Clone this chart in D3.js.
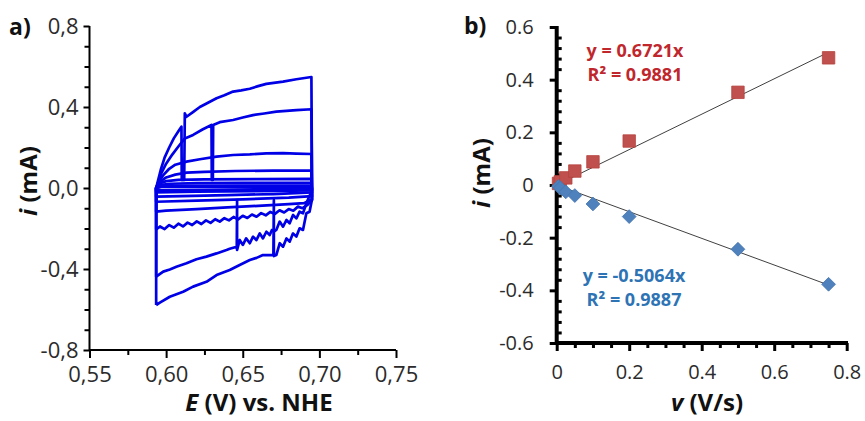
<!DOCTYPE html>
<html>
<head>
<meta charset="utf-8">
<script src="https://cdn.jsdelivr.net/npm/d3@7/dist/d3.min.js"></script>
<style>
  html, body { margin: 0; padding: 0; background: #fff; }
  svg { display: block; }
  text { font-family: "Open Sans", "DejaVu Sans", sans-serif; }
</style>
</head>
<body>
<svg id="chart" width="865" height="421"></svg>
<script>
// ---------------- Panel a) data: cyclic voltammograms (E in V, i in mA) ----------------
const cvTicksX = [0.55, 0.60, 0.65, 0.70, 0.75];
const cvMinorX = [0.575, 0.625, 0.675, 0.725];
const cvTicksY = [-0.8, -0.4, 0.0, 0.4, 0.8];
const cvMinorY = [-0.7, -0.6, -0.5, -0.3, -0.2, -0.1, 0.1, 0.2, 0.3, 0.5, 0.6, 0.7];

const cv0005 = [[0.5935,-0.012],[0.5935,0.0],[0.597,0.005],[0.62,0.006],[0.66,0.006],[0.6948,0.006],
  [0.6952,-0.006],[0.66,-0.008],[0.62,-0.010],[0.5935,-0.012]];
const cv001 = [[0.5935,-0.022],[0.5935,0.0],[0.597,0.009],[0.61,0.011],[0.65,0.012],[0.6948,0.012],
  [0.6952,-0.012],[0.66,-0.015],[0.62,-0.018],[0.5935,-0.022]];
const cv0025 = [[0.5935,-0.043],[0.5935,0.0],[0.5965,0.015],[0.603,0.021],[0.62,0.024],[0.65,0.025],[0.6948,0.026],
  [0.6952,-0.022],[0.67,-0.030],[0.64,-0.035],[0.61,-0.040],[0.5935,-0.043]];
const cv005 = [[0.5935,-0.068],[0.5935,0.0],[0.5955,0.022],[0.600,0.034],[0.608,0.040],[0.625,0.043],[0.66,0.044],[0.6948,0.045],
  [0.6952,-0.040],[0.68,-0.048],[0.65,-0.056],[0.62,-0.062],[0.5935,-0.068]];
const cv010 = [[0.5935,-0.117],[0.5935,0.0],[0.5955,0.028],[0.600,0.052],[0.606,0.066],[0.6133,0.076],[0.625,0.080],[0.645,0.084],[0.67,0.086],[0.6948,0.086],
  [0.6952,-0.055],[0.690,-0.075],[0.68,-0.080],[0.66,-0.088],[0.64,-0.096],[0.62,-0.104],[0.60,-0.112],[0.5935,-0.117]];
const cv020 = [[0.5935,-0.205],[0.5935,0.0],[0.595,0.030],[0.598,0.062],[0.602,0.095],[0.606,0.115],[0.6133,0.130],[0.622,0.142],[0.6329,0.155],[0.6437,0.163],[0.6546,0.166],[0.6654,0.171],[0.6763,0.172],[0.685,0.170],[0.6948,0.168],
  [0.6952,-0.060],[0.692,-0.085],[0.689,-0.100],[0.686,-0.092],[0.683,-0.112],[0.680,-0.104],[0.677,-0.121],[0.674,-0.110],[0.671,-0.128],[0.668,-0.118],[0.665,-0.135],[0.662,-0.124],[0.659,-0.142],[0.656,-0.131],[0.653,-0.148],[0.650,-0.137],[0.647,-0.155],[0.644,-0.143],[0.641,-0.160],[0.638,-0.149],[0.635,-0.166],[0.632,-0.154],[0.629,-0.172],[0.626,-0.160],[0.623,-0.178],[0.620,-0.165],[0.617,-0.183],[0.614,-0.171],[0.611,-0.190],[0.608,-0.176],[0.605,-0.196],[0.602,-0.183],[0.599,-0.203],[0.596,-0.190],[0.5935,-0.205]];
const cv050 = [[0.5935,-0.438],[0.5935,0.0],[0.5945,0.020],[0.597,0.075],[0.600,0.120],[0.604,0.165],[0.608,0.205],[0.6122,0.245],[0.6176,0.262],[0.624,0.290],[0.6296,0.311],[0.6298,0.040],[0.6305,0.040],[0.6307,0.311],[0.635,0.325],[0.6437,0.336],[0.650,0.348],[0.6567,0.360],[0.664,0.368],[0.6719,0.377],[0.685,0.385],[0.6948,0.389],
  [0.6952,0.0],[0.6943,-0.026],[0.6915,-0.076],[0.6893,-0.125],[0.6871,-0.117],[0.6850,-0.150],[0.6828,-0.133],[0.6806,-0.174],[0.6785,-0.158],[0.6763,-0.191],[0.6741,-0.166],[0.6719,-0.207],[0.6703,-0.215],[0.6691,-0.207],[0.6676,-0.232],[0.6654,-0.216],[0.6632,-0.249],[0.6611,-0.224],[0.6589,-0.257],[0.6567,-0.240],[0.6546,-0.273],[0.6522,-0.249],[0.6501,-0.281],[0.6480,-0.257],[0.6463,-0.306],[0.6463,-0.060],[0.6461,-0.290],[0.6415,-0.300],[0.6394,-0.306],[0.6329,-0.323],[0.6263,-0.339],[0.6198,-0.352],[0.6133,-0.372],[0.6067,-0.389],[0.6024,-0.402],[0.5981,-0.413],[0.5935,-0.438]];
const cv075 = [[0.5935,-0.578],[0.5935,0.0],[0.5945,0.030],[0.5965,0.090],[0.599,0.150],[0.602,0.200],[0.605,0.245],[0.608,0.280],[0.6100,0.303],[0.6102,0.040],[0.6118,0.040],[0.6122,0.369],[0.6133,0.352],[0.6175,0.375],[0.622,0.400],[0.627,0.420],[0.6329,0.443],[0.638,0.458],[0.6437,0.476],[0.6490,0.482],[0.6546,0.490],[0.660,0.503],[0.6654,0.514],[0.6763,0.525],[0.685,0.537],[0.6948,0.548],
  [0.6952,0.0],[0.6951,-0.059],[0.6936,-0.117],[0.6915,-0.125],[0.6893,-0.207],[0.6871,-0.199],[0.6850,-0.240],[0.6828,-0.224],[0.6806,-0.265],[0.6785,-0.249],[0.6763,-0.290],[0.6741,-0.273],[0.6719,-0.331],[0.6703,-0.336],[0.6703,-0.060],[0.6700,-0.331],[0.6632,-0.331],[0.6590,-0.345],[0.6546,-0.356],[0.6480,-0.380],[0.6415,-0.405],[0.6329,-0.430],[0.6263,-0.463],[0.6176,-0.487],[0.6111,-0.512],[0.6024,-0.537],[0.5959,-0.566],[0.5935,-0.578]];
const cvCycles = [cv0005, cv001, cv0025, cv005, cv010, cv020, cv050, cv075];

// ---------------- Panel b) data: peak currents vs scan rate ----------------
const scanRates = [0.005, 0.01, 0.025, 0.05, 0.1, 0.2, 0.5, 0.75];
const anodicPeak = [0.006, 0.012, 0.027, 0.053, 0.088, 0.167, 0.352, 0.483];
const cathodicPeak = [-0.005, -0.011, -0.026, -0.040, -0.072, -0.120, -0.244, -0.377];
const anodicSlope = 0.6721, cathodicSlope = -0.5064;
const fitRange = [0, 0.75];
const bTicksX = [0, 0.2, 0.4, 0.6, 0.8];
const bMinorX = [0.05, 0.1, 0.15, 0.25, 0.3, 0.35, 0.45, 0.5, 0.55, 0.65, 0.7, 0.75];
const bTicksY = [-0.6, -0.4, -0.2, 0, 0.2, 0.4, 0.6];
const bMinorY = [-0.56,-0.52,-0.48,-0.44,-0.36,-0.32,-0.28,-0.24,-0.16,-0.12,-0.08,-0.04,0.04,0.08,0.12,0.16,0.24,0.28,0.32,0.36,0.44,0.48,0.52,0.56];
const anodicLabel = ["y = 0.6721x", "R² = 0.9881"];
const cathodicLabel = ["y = -0.5064x", "R² = 0.9887"];

const svg = d3.select("#chart");
const locA = d3.formatLocale({decimal: ",", thousands: ".", grouping: [3], currency: ["", ""], minus: "-"});
const locB = d3.formatLocale({decimal: ".", thousands: ",", grouping: [3], currency: ["", ""], minus: "-"});

// ================= Panel a =================
const ax = d3.scaleLinear().domain([0.55, 0.75]).range([89.5, 396]);
const ay = d3.scaleLinear().domain([-0.8, 0.8]).range([350, 26]);

const gA = svg.append("g");
const cvLine = d3.line().x(d => ax(d[0])).y(d => ay(d[1]));
gA.selectAll("path.cv").data(cvCycles).join("path")
  .attr("class", "cv")
  .attr("d", cvLine)
  .attr("fill", "none")
  .attr("stroke", "#0000e6")
  .attr("stroke-width", 2.7)
  .attr("stroke-linejoin", "round");

const aXMinor = gA.append("g").attr("transform", "translate(0,350)")
  .call(d3.axisBottom(ax).tickValues(cvMinorX).tickSize(5).tickFormat(""));
const aXAxis = gA.append("g").attr("transform", "translate(0,350)")
  .call(d3.axisBottom(ax).tickValues(cvTicksX).tickSize(8).tickPadding(8).tickFormat(locA.format(".2f")));
const aYMinor = gA.append("g").attr("transform", "translate(89.5,0)")
  .call(d3.axisLeft(ay).tickValues(cvMinorY).tickSize(5).tickFormat(""));
const aYAxis = gA.append("g").attr("transform", "translate(89.5,0)")
  .call(d3.axisLeft(ay).tickValues(cvTicksY).tickSize(6).tickPadding(5).tickFormat(locA.format(".1f")));
[aXMinor, aXAxis, aYMinor, aYAxis].forEach(g => {
  g.selectAll(".tick line").attr("stroke", "#000").attr("stroke-width", 2);
  g.selectAll(".tick text").attr("fill", "#2b2b2b").style("font-size", "22px")
    .style("font-family", "'Open Sans', sans-serif");
});
aXMinor.select(".domain").remove(); aYMinor.select(".domain").remove();
aXAxis.select(".domain").attr("d", "M89.5,0H396").attr("stroke", "#000").attr("stroke-width", 2);
aYAxis.select(".domain").attr("d", "M0,26V351").attr("stroke", "#000").attr("stroke-width", 2);

gA.append("text").attr("x", 9).attr("y", 35)
  .style("font-size", "23px").style("font-weight", 700).attr("fill", "#111").text("a)");
const aYL = gA.append("text")
  .attr("transform", "translate(37,181) rotate(-90)")
  .attr("text-anchor", "middle")
  .style("font-size", "24px").style("font-weight", 700).attr("fill", "#111");
aYL.append("tspan").style("font-style", "italic").text("i");
aYL.append("tspan").text(" (mA)");
const aXL = gA.append("text").attr("x", 259).attr("y", 411)
  .attr("text-anchor", "middle")
  .style("font-size", "24px").style("font-weight", 700).attr("fill", "#111");
aXL.append("tspan").style("font-style", "italic").text("E");
aXL.append("tspan").text(" (V) vs. NHE");

// ================= Panel b =================
const bx = d3.scaleLinear().domain([0, 0.8]).range([556.7, 846.7]);
const by = d3.scaleLinear().domain([-0.6, 0.6]).range([343, 27]);
const gB = svg.append("g");
const fmtB = d => locB.format("")(+d.toFixed(1));

const bXMinor = gB.append("g").attr("transform", "translate(0,343)")
  .call(d3.axisBottom(bx).tickValues(bMinorX).tickSize(5).tickFormat(""));
const bXAxis = gB.append("g").attr("transform", "translate(0,343)")
  .call(d3.axisBottom(bx).tickValues(bTicksX).tickSize(8).tickPadding(14).tickFormat(fmtB));
const bYMinor = gB.append("g").attr("transform", "translate(556.7,0)")
  .call(d3.axisRight(by).tickValues(bMinorY).tickSize(5).tickFormat(""));
const bYAxis = gB.append("g").attr("transform", "translate(556.7,0)")
  .call(d3.axisLeft(by).tickValues(bTicksY).tickSize(7).tickPadding(16).tickFormat(fmtB));
[bXMinor, bXAxis, bYMinor, bYAxis].forEach(g => {
  g.selectAll(".tick line").attr("stroke", "#000").attr("stroke-width", 3);
  g.selectAll(".tick text").attr("fill", "#2b2b2b").style("font-size", "20px")
    .style("font-family", "'Open Sans', sans-serif");
});
bXMinor.select(".domain").remove(); bYMinor.select(".domain").remove();
bXAxis.select(".domain").attr("d", "M555,0H848").attr("stroke", "#000").attr("stroke-width", 4);
bYAxis.select(".domain").attr("d", "M0,26V345").attr("stroke", "#000").attr("stroke-width", 4);

const fitLine = d3.line().x(d => bx(d[0])).y(d => by(d[1]));
gB.append("path").attr("d", fitLine(fitRange.map(v => [v, anodicSlope * v])))
  .attr("stroke", "#404040").attr("stroke-width", 1).attr("fill", "none");
gB.append("path").attr("d", fitLine(fitRange.map(v => [v, cathodicSlope * v])))
  .attr("stroke", "#404040").attr("stroke-width", 1).attr("fill", "none");

const anData = scanRates.map((v, k) => [v, anodicPeak[k]]);
const caData = scanRates.map((v, k) => [v, cathodicPeak[k]]);
gB.selectAll("path.sq").data(anData).join("path").attr("class", "sq")
  .attr("d", d3.symbol(d3.symbolSquare, 155))
  .attr("transform", d => `translate(${bx(d[0])},${by(d[1])})`)
  .attr("fill", "#c0504d").attr("stroke", "#b5423f").attr("stroke-width", 0.8);
gB.selectAll("path.dm").data(caData).join("path").attr("class", "dm")
  .attr("d", d3.symbol(d3.symbolSquare, 95))
  .attr("transform", d => `translate(${bx(d[0])},${by(d[1])}) rotate(45)`)
  .attr("fill", "#4f81bd").attr("stroke", "#4677b0").attr("stroke-width", 0.8);

gB.selectAll("text.an").data(anodicLabel).join("text").attr("class", "an")
  .attr("x", 635).attr("y", (d, k) => 57 + k * 24).attr("text-anchor", "middle")
  .style("font-size", "18px").style("font-weight", 700).attr("fill", "#c0272d").text(d => d);
gB.selectAll("text.ca").data(cathodicLabel).join("text").attr("class", "ca")
  .attr("x", 634).attr("y", (d, k) => 282 + k * 24).attr("text-anchor", "middle")
  .style("font-size", "18px").style("font-weight", 700).attr("fill", "#2e74b5").text(d => d);

gB.append("text").attr("x", 464).attr("y", 34)
  .style("font-size", "23px").style("font-weight", 700).attr("fill", "#111").text("b)");
const bYL = gB.append("text")
  .attr("transform", "translate(490,173) rotate(-90)")
  .attr("text-anchor", "middle")
  .style("font-size", "24px").style("font-weight", 700).attr("fill", "#111");
bYL.append("tspan").style("font-style", "italic").text("i");
bYL.append("tspan").text(" (mA)");
const bXL = gB.append("text").attr("x", 707).attr("y", 411)
  .attr("text-anchor", "middle")
  .style("font-size", "24px").style("font-weight", 700).attr("fill", "#111");
bXL.append("tspan").style("font-style", "italic").text("v");
bXL.append("tspan").text(" (V/s)");
</script>
</body>
</html>
